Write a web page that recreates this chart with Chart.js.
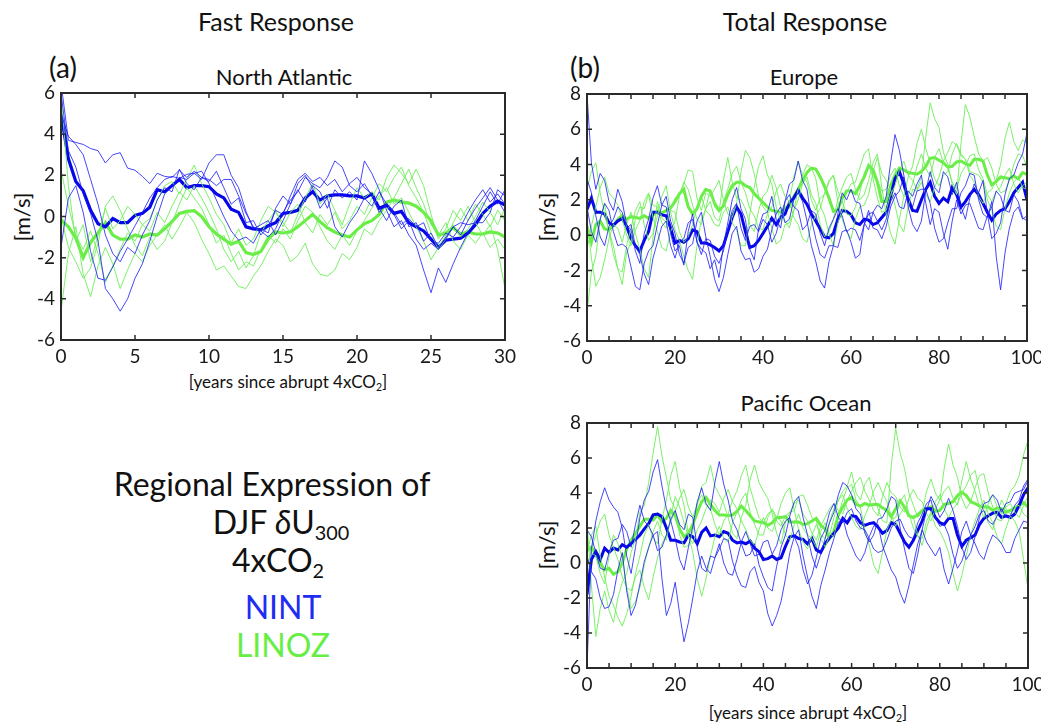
<!DOCTYPE html>
<html>
<head>
<meta charset="utf-8">
<script src="https://cdn.jsdelivr.net/npm/chart.js@4.4.0/dist/chart.umd.min.js"></script>
<style>
body { margin: 0; background: #fff; width: 1041px; height: 724px; position: relative; overflow: hidden; font-family: Lato, "Noto Sans", sans-serif; color: #111; }
.t { position: absolute; transform: translate(-50%, -50%); white-space: nowrap; line-height: 1; }
.rot { transform: translate(-50%, -50%) rotate(-90deg); }
.box { position: absolute; }
sub { font-size: 0.62em; vertical-align: -0.3em; line-height: 0; }
</style>
</head>
<body>

<div class="t" style="left:276px;top:21px;font-size:25px">Fast Response</div>
<div class="t" style="left:805px;top:21px;font-size:25px">Total Response</div>
<div class="t" style="left:63px;top:67px;font-size:28px">(a)</div>
<div class="t" style="left:585px;top:67px;font-size:28px">(b)</div>
<div class="t" style="left:284px;top:77px;font-size:22px">North Atlantic</div>
<div class="t" style="left:804px;top:77px;font-size:22px">Europe</div>
<div class="t" style="left:806px;top:403px;font-size:22px">Pacific Ocean</div>
<div class="t rot" style="left:22px;top:217px;font-size:22px">[m/s]</div>
<div class="t rot" style="left:547px;top:217px;font-size:22px">[m/s]</div>
<div class="t rot" style="left:547px;top:545px;font-size:22px">[m/s]</div>
<div class="t" style="left:288px;top:381px;font-size:17px">[years since abrupt 4xCO<sub>2</sub>]</div>
<div class="t" style="left:808px;top:712px;font-size:17px">[years since abrupt 4xCO<sub>2</sub>]</div>

<div class="t" style="left:272px;top:484px;font-size:32px">Regional Expression of</div>
<div class="t" style="left:281px;top:522px;font-size:32px">DJF <i>δ</i>U<sub>300</sub></div>
<div class="t" style="left:278px;top:560px;font-size:32px">4xCO<sub>2</sub></div>
<div class="t" style="left:283px;top:607px;font-size:32px;color:#1f2cf2">NINT</div>
<div class="t" style="left:283px;top:645px;font-size:32px;color:#66ee44">LINOZ</div>

<div class="box" style="left:0px;top:83px"><canvas id="cA" width="530" height="300"></canvas></div>
<div class="box" style="left:540px;top:84px"><canvas id="cB" width="501" height="300"></canvas></div>
<div class="box" style="left:540px;top:413px"><canvas id="cC" width="501" height="300"></canvas></div>

<script>
// North Atlantic, fast response, sampled every half year (0..30)
var naBlueMean = [5.0,2.8,1.7,1.25,0.3,-0.35,-0.5,-0.1,-0.3,-0.3,0.05,0.15,0.45,1.3,1.2,1.5,1.8,1.4,1.5,1.5,1.45,1.1,0.9,0.35,0.2,-0.5,-0.6,-0.65,-0.45,-0.3,0.15,0.2,0.3,0.9,1.2,0.8,1.0,1.05,1.05,1.0,1.0,0.9,1.1,0.4,0.55,0.15,0.25,-0.3,-0.5,-0.7,-1.1,-1.5,-1.15,-1.1,-1.05,-0.8,-0.4,0.15,0.5,0.75,0.55];
var naGreenMean = [-0.15,-0.5,-1.05,-2.0,-1.25,-0.8,-0.3,-0.9,-1.1,-1.1,-0.9,-1.0,-0.85,-0.9,-0.6,-0.25,0.15,0.25,0.28,0.0,-0.5,-0.85,-1.1,-1.35,-1.2,-1.75,-1.85,-1.7,-1.1,-0.75,-0.8,-0.75,-0.5,-0.2,0.1,-0.25,-0.55,-0.75,-0.9,-1.0,-0.65,-0.35,-0.2,0.1,0.7,0.8,0.7,0.65,0.5,0.2,-0.2,-0.9,-0.8,-0.55,-0.85,-0.75,-0.85,-0.85,-0.75,-0.8,-1.0];
var naBlue1 = [6.5,3.7,3.6,3.5,3.3,3.2,2.6,3.0,3.1,2.35,2.25,1.95,1.6,2.1,1.95,1.9,2.25,1.9,2.2,1.9,1.8,1.5,1.8,1.8,1.0,0.15,-0.5,-0.7,-1.0,-0.6,0.2,0.8,1.2,1.9,1.6,1.4,1.9,2.7,2.4,1.5,1.2,1.6,1.0,0.2,0.6,0.1,-0.6,-0.2,-1.1,-1.6,-1.3,-1.6,-1.0,-0.5,-0.3,-0.4,-0.3,-0.3,0.2,1.3,1.0];
var naBlue2 = [6.0,3.2,2.4,1.1,0.15,-1.2,-3.5,-4.0,-4.6,-4.0,-3.0,-2.3,-1.2,0.0,1.1,1.45,1.9,1.8,2.1,1.8,2.6,3.0,3.0,2.0,1.4,0.25,-0.6,-0.4,-0.2,-0.9,-0.2,0.6,1.3,0.7,1.5,1.2,0.4,1.3,0.9,1.2,0.8,2.7,2.1,1.3,0.3,-0.5,-0.2,-0.9,-1.4,-2.6,-3.7,-2.5,-3.2,-2.3,-1.5,-0.8,-0.2,0.5,1.2,0.6,1.3];
var naBlue3 = [-1.5,0.9,1.5,0.2,-1.7,-3.0,-3.1,-2.45,-1.7,-1.1,-0.45,0.2,0.9,1.4,1.8,1.95,1.85,2.05,2.1,2.2,1.6,0.8,0.0,-0.7,-1.15,-1.0,-1.3,-0.6,-0.8,0.4,1.0,0.6,1.6,2.0,1.4,0.4,0.9,-0.5,-1.0,-0.3,0.2,0.9,0.5,1.2,0.6,0.2,-0.4,-0.1,-0.5,-0.3,-1.2,-1.3,-0.8,-1.0,-0.5,0.2,0.8,1.3,0.7,1.1,0.6];
var naBlue4 = [5.0,3.9,3.5,3.0,1.8,0.6,-0.9,-1.8,-2.2,-1.5,-1.8,-0.9,-0.2,0.8,1.4,1.2,2.3,1.6,1.3,1.9,1.7,2.2,1.4,0.6,0.9,-0.3,-0.2,-0.9,-0.5,0.3,0.1,1.0,1.8,2.1,1.7,1.9,1.5,1.8,1.2,1.6,1.9,1.4,1.1,0.4,-0.2,0.5,0.8,-0.5,-0.3,-1.2,-0.8,-1.5,-1.1,-0.5,-0.9,-0.2,0.4,0.9,1.4,0.8,0.2];
var naGreen1 = [6.0,1.5,-1.2,-0.4,-2.2,-0.9,0.4,-0.6,-0.2,0.5,0.1,-0.4,-0.1,0.8,1.5,1.7,1.1,1.8,2.5,1.6,0.9,0.1,-0.4,-1.3,-0.6,-1.4,-1.1,-0.2,0.5,0.2,-0.3,-0.8,0.1,0.9,1.6,0.6,1.1,0.3,-0.4,0.6,1.4,0.9,1.2,0.8,1.9,2.5,2.1,1.6,2.3,1.5,0.1,-1.1,-0.6,0.3,-0.2,0.5,-0.3,-0.9,-0.4,-1.6,-3.5];
var naGreen2 = [-4.6,-1.8,-0.5,-2.8,-3.9,-2.4,-1.5,-2.3,-3.5,-2.6,-1.8,-2.2,-1.4,-0.9,-0.4,-1.1,-0.5,0.2,-0.3,-1.1,-1.8,-2.6,-2.4,-2.9,-3.4,-3.5,-2.9,-2.4,-1.7,-1.1,-1.4,-2.2,-1.9,-1.3,-2.3,-2.8,-2.9,-2.6,-1.8,-2.1,-1.5,-0.6,-0.9,-0.2,0.3,0.9,1.6,2.3,1.4,0.6,-0.4,-0.9,-0.3,-1.2,-1.6,-0.9,-1.3,-0.8,-1.5,-1.1,-1.6];
var naGreen3 = [0.0,-1.5,-2.2,-3.0,-2.5,-1.3,0.5,1.0,0.3,-0.6,-1.4,-1.9,-1.0,-1.6,-1.2,-0.3,0.6,1.4,0.9,0.4,-0.4,-1.3,-0.9,-1.8,-2.6,-2.2,-2.4,-1.6,-0.9,-1.3,-0.6,-1.1,-0.2,0.5,0.2,-0.5,-1.2,-1.6,-0.9,-1.4,-0.7,-0.2,0.4,1.0,1.4,0.6,0.9,0.2,-0.5,-1.2,-2.1,-1.5,-0.9,-0.4,-1.0,-0.6,0.0,0.7,0.2,-0.4,0.4];
var naGreen4 = [2.3,0.5,-0.9,-1.6,-0.7,-1.8,-3.2,-2.4,-1.6,-0.8,-1.2,-0.4,-0.7,0.2,-0.3,0.5,1.2,0.8,1.5,0.9,0.2,-0.6,-1.6,-2.2,-1.7,-2.5,-1.9,-0.8,-0.2,0.3,-0.5,0.2,0.6,-0.3,-0.8,0.1,-0.4,0.2,-0.6,-0.2,0.5,0.1,0.9,1.6,1.2,1.9,2.4,1.5,0.9,0.2,-0.8,-1.6,-1.1,-0.3,0.4,-0.2,0.6,0.1,-0.5,0.3,-0.2];

// Europe, total response, yearly (0..100)
var euBlueMean = [1.45,2.1,1.3,1.3,1.2,0.7,0.55,0.8,0.95,0.5,-0.2,-0.6,-0.9,-0.3,0.2,1.3,1.3,1.15,1.1,0.4,-0.45,-0.3,-0.4,-0.2,0.3,0.2,-0.45,-0.45,-0.55,-0.7,-0.9,-0.6,0.2,1.0,1.6,1.2,0.2,-0.7,-0.6,-0.3,0.1,0.5,0.95,0.6,1.0,1.2,1.85,2.1,2.55,2.1,1.75,1.2,0.8,0.35,-0.1,-0.15,0.1,0.9,1.4,1.35,1.15,0.7,0.6,0.9,0.85,0.6,0.7,1.0,1.3,2.2,3.2,3.6,2.9,2.0,1.4,1.35,2.0,2.6,3.0,2.2,1.8,2.1,1.9,2.7,2.3,1.6,1.9,2.3,2.6,2.3,1.8,1.3,0.85,1.2,1.4,1.5,1.9,2.4,2.7,3.0,2.0];
var euGreenMean = [0.5,-0.4,0.6,0.8,0.35,0.3,0.55,0.9,1.1,0.9,1.05,1.0,0.95,1.1,0.95,1.15,1.35,1.25,1.4,1.55,1.9,2.35,2.6,1.6,1.2,1.5,2.2,2.6,2.5,1.8,1.4,1.65,2.3,2.8,3.0,3.0,2.8,2.7,2.35,2.1,1.85,1.6,1.4,1.35,1.3,1.5,1.6,2.2,2.6,3.1,3.55,3.8,3.75,3.3,2.75,2.1,1.35,1.45,2.1,2.5,2.5,2.35,2.8,3.3,3.95,3.7,3.0,1.9,1.9,2.8,3.4,3.8,3.7,3.55,3.5,3.45,3.6,3.9,4.35,4.4,4.25,4.1,3.85,3.9,4.15,4.2,4.05,3.95,4.3,4.3,4.2,3.4,2.85,3.05,3.3,3.25,3.2,3.35,3.2,3.55,3.45];
var euBlue1 = [8.0,4.1,2.6,3.5,3.1,1.9,1.4,2.6,1.9,0.6,0.3,-0.9,-1.6,0.1,0.9,2.1,2.8,1.7,1.6,0.1,-0.9,-0.6,-1.7,0.2,1.2,-0.4,-0.8,-1.0,-1.9,-1.4,-2.4,-0.6,0.7,2.0,2.7,1.5,0.9,-0.8,-1.4,0.4,1.2,1.3,2.2,0.9,0.4,1.9,2.9,3.1,4.2,3.1,2.6,0.9,-0.2,-1.1,-1.3,-0.6,-0.6,1.2,2.4,2.0,2.6,1.9,1.8,0.7,0.3,1.3,1.7,1.5,2.2,4.1,5.7,4.8,3.4,1.6,0.6,0.2,0.8,2.5,3.6,2.7,2.4,3.6,3.3,2.3,3.0,1.6,0.9,2.1,2.9,2.4,3.1,1.2,-0.2,0.1,0.7,2.3,3.2,3.4,4.1,4.6,5.8];
var euBlue2 = [1.6,0.2,-0.4,0.9,1.8,1.4,0.2,-0.6,-0.5,-0.7,-1.8,-2.9,-3.1,-1.6,-0.9,-0.6,0.6,1.7,2.2,0.8,0.1,-1.1,-1.6,-0.7,-0.5,0.8,1.3,-0.1,-1.2,-2.5,-3.2,-2.4,-1.1,0.1,0.5,-0.9,-1.4,-1.3,-2.1,-1.9,-1.2,-0.8,0.3,1.2,1.6,0.7,0.9,2.0,2.4,1.9,0.8,-0.6,-1.5,-2.6,-3.0,-1.5,-0.6,-0.7,0.2,0.3,-0.4,-1.3,-1.1,0.6,1.4,0.4,0.3,-0.2,0.5,1.6,2.2,2.5,3.3,2.2,1.6,2.5,2.6,2.6,1.8,0.4,-0.4,-0.2,0.7,1.5,1.5,2.4,2.8,3.5,3.4,2.0,1.2,1.0,1.9,-1.2,-3.1,-1.0,0.4,1.3,1.6,0.9,1.1];
var euBlue3 = [3.2,2.4,1.1,-0.1,-0.6,0.5,0.9,1.6,1.3,0.4,0.6,-0.6,-1.1,-2.2,-2.8,-1.3,-0.4,0.5,0.8,-0.6,-1.3,-0.4,-0.2,0.7,0.9,-0.4,-1.1,-0.2,-0.3,-1.2,-1.6,-0.9,0.3,1.4,1.8,0.4,-0.3,0.5,0.6,0.2,0.9,0.6,-0.4,0.1,1.1,1.9,2.3,1.6,1.4,0.3,0.6,1.4,1.2,0.1,-0.6,0.4,0.9,1.5,1.1,0.2,0.4,0.3,-0.3,0.6,1.2,1.3,0.8,0.3,0.9,1.9,2.4,1.6,1.5,2.5,2.2,2.9,3.4,1.8,0.6,1.5,1.3,0.1,-0.8,0.8,2.0,1.2,1.7,1.8,1.1,0.4,0.3,1.1,1.6,2.5,2.2,1.4,1.3,2.3,1.9,1.0,0.8];
var euGreen1 = [-4.4,-2.1,-1.2,0.9,1.8,0.2,-0.6,-1.9,-2.8,-1.0,-0.4,0.9,1.6,1.5,2.3,1.0,0.2,-0.7,-0.9,0.2,0.8,2.2,2.9,3.7,3.6,2.1,1.4,2.4,2.2,2.6,3.1,2.0,1.2,1.0,1.8,3.6,4.8,4.4,3.5,2.2,1.6,1.3,0.4,-0.5,-0.3,0.6,0.7,1.4,2.6,3.4,4.0,3.8,3.2,1.7,1.1,0.1,-0.6,0.7,1.4,2.4,2.9,3.0,3.8,4.6,4.9,3.2,2.1,1.3,1.4,2.3,2.8,3.7,4.2,3.4,3.1,2.6,3.3,5.6,7.5,6.6,6.1,4.7,4.0,2.9,2.3,5.2,7.4,6.7,5.6,4.6,4.2,4.4,3.8,2.9,2.4,2.5,3.1,4.0,4.6,4.5,3.9];
var euGreen2 = [2.6,3.6,4.1,2.4,1.2,0.2,-1.1,-1.9,-2.1,-0.6,0.4,1.4,1.9,0.6,-0.3,0.1,1.1,2.2,2.8,1.3,0.3,-0.3,-1.2,-2.0,-2.5,-0.6,0.9,1.5,2.6,1.6,1.3,3.1,4.4,3.0,2.1,2.0,1.5,0.6,0.2,1.4,2.2,2.5,3.4,2.7,1.6,0.8,0.4,1.4,2.0,2.9,3.3,2.3,1.8,0.6,-0.1,0.2,0.9,2.0,2.7,3.3,3.5,2.6,2.0,2.3,3.1,4.1,4.6,2.7,1.2,0.1,-0.5,0.9,2.2,3.3,3.9,5.2,6.0,4.9,4.1,3.2,2.8,3.4,3.6,4.6,5.2,4.6,4.3,3.4,3.0,2.2,1.8,2.4,2.6,3.1,4.0,5.5,6.4,5.3,4.8,5.4,5.2];
var euGreen3 = [-0.8,0.5,1.6,2.7,3.3,2.4,2.1,1.7,0.9,0.0,-0.6,0.3,0.8,1.9,2.4,1.7,1.6,0.7,0.4,1.5,2.1,2.3,3.0,2.6,1.7,0.9,0.6,1.5,1.9,1.0,0.8,1.9,2.6,3.5,3.9,3.0,2.4,1.5,1.1,0.4,0.3,1.2,1.6,2.5,2.9,2.2,1.9,3.3,4.2,3.4,3.0,2.0,1.4,2.1,2.3,3.0,3.4,2.5,1.9,1.2,1.1,1.6,2.4,3.5,4.0,3.3,3.1,2.5,2.6,3.4,3.8,2.8,2.2,2.3,2.9,3.9,4.6,3.8,3.3,4.4,4.9,4.1,3.8,3.0,2.6,3.5,3.9,4.5,4.6,3.7,3.2,2.3,1.9,2.5,2.7,3.4,3.8,2.9,2.4,2.8,3.0];
var euGreen4 = [0.9,-1.3,-2.9,-2.4,-1.4,-0.2,0.6,0.4,-0.4,0.6,1.3,0.1,-0.8,-1.9,-2.4,-0.1,1.9,1.0,0.7,1.4,1.3,0.2,-0.4,-0.1,0.6,1.6,2.2,1.4,1.1,0.6,0.5,1.3,1.6,0.7,0.3,-0.6,-0.6,1.2,2.7,3.9,4.5,3.4,2.9,1.6,0.8,1.6,1.9,1.0,0.6,-0.2,-0.4,0.6,1.1,1.5,2.4,3.1,3.4,1.9,0.9,0.2,-0.2,0.9,1.6,1.7,2.3,3.6,4.4,3.5,3.1,2.6,1.7,0.6,0.2,1.6,2.6,2.5,3.0,2.3,1.9,2.7,3.3,4.2,4.7,5.3,5.1,4.5,4.3,3.6,3.5,3.4,3.0,2.0,1.4,0.5,0.3,1.5,2.4,3.0,3.3,2.7,2.6];

// Pacific Ocean, total response, yearly (0..100)
var paBlueMean = [-1.8,0.2,0.65,0.2,0.85,0.6,0.85,0.75,1.05,0.9,1.1,1.35,1.6,1.95,2.25,2.75,2.8,2.65,2.0,1.3,1.3,1.2,1.15,1.6,1.5,1.1,1.75,2.0,1.55,1.6,1.5,1.8,1.7,1.3,1.15,1.2,1.1,1.25,0.85,0.65,0.2,0.25,0.4,0.2,0.3,0.95,1.5,1.55,1.4,1.35,1.1,1.4,0.75,0.6,1.1,1.45,1.7,2.0,2.55,2.3,2.7,2.65,2.3,2.15,2.25,2.3,2.05,1.7,1.85,2.3,2.2,1.7,1.2,0.9,1.3,1.85,2.4,3.1,3.1,2.6,2.3,2.2,2.55,2.55,1.6,0.95,1.3,1.45,1.6,2.2,2.55,2.7,2.85,2.9,2.6,2.7,2.6,2.8,3.3,3.9,4.3];
var paGreenMean = [0.7,0.9,0.5,0.0,-0.4,-0.3,-0.65,-0.5,0.0,0.8,1.3,1.7,2.1,2.5,2.5,2.45,2.75,2.35,2.55,3.0,2.7,1.95,1.5,1.7,2.2,2.9,3.5,3.75,3.35,3.0,2.75,2.75,2.7,2.75,2.95,3.25,3.0,2.7,2.4,2.35,2.3,2.15,2.3,2.6,2.6,2.65,2.35,2.35,2.35,2.2,2.25,2.4,2.55,2.15,1.95,1.4,1.8,2.75,3.2,3.6,3.75,3.35,3.25,3.4,3.3,3.35,3.35,3.15,3.0,2.65,3.1,3.55,3.2,2.7,2.6,2.75,3.0,3.1,3.2,2.95,3.0,3.35,3.4,3.5,3.85,4.05,3.85,3.5,3.4,3.25,3.2,3.2,3.0,3.15,3.1,2.9,3.0,3.15,3.3,3.45,3.2];
var paBlue1 = [-6.0,0.8,2.4,3.5,4.3,3.6,3.2,2.9,2.0,0.4,-0.6,0.9,2.6,3.6,4.1,5.2,5.9,4.4,3.1,2.4,1.4,0.2,-0.4,0.9,2.1,3.5,4.3,3.4,3.0,4.6,5.8,4.5,3.6,2.4,1.9,1.1,0.4,0.5,1.1,-0.1,-0.8,-1.4,-1.6,-0.2,0.9,1.6,2.7,3.5,3.8,2.6,1.6,0.4,-0.3,0.5,1.4,2.3,2.9,3.9,4.6,4.4,3.9,3.1,2.8,1.7,1.2,1.6,2.5,2.6,3.1,3.8,3.6,2.0,0.8,-0.3,-0.6,0.5,1.9,3.0,3.8,3.3,2.6,3.0,3.7,3.0,2.1,0.9,0.2,0.6,1.5,2.6,3.4,3.5,3.9,3.6,2.9,3.4,3.5,4.0,4.1,4.2,4.7];
var paBlue2 = [0.4,-0.5,-0.9,-2.0,-2.6,-2.5,-1.8,-0.4,0.6,-1.6,-3.0,-2.4,-1.2,0.1,0.9,1.6,1.8,-0.9,-3.0,-2.3,-1.1,-2.9,-4.5,-3.4,-2.0,-0.5,0.4,-0.3,-0.6,0.3,0.8,1.4,1.3,0.1,-0.7,-1.3,-1.4,-0.5,-0.2,-1.1,-1.6,-2.9,-3.6,-3.0,-2.2,-0.9,0.6,1.5,1.9,0.4,-0.8,-1.9,-2.6,-1.3,-0.4,0.6,1.4,2.3,2.6,1.6,1.0,0.4,0.1,0.6,1.5,2.1,2.2,1.0,0.3,-0.4,-0.8,-1.7,-2.3,-1.3,-0.1,1.1,1.9,1.2,0.8,0.4,0.9,-0.4,-1.2,-0.3,0.7,1.8,2.4,1.6,1.1,0.5,0.2,1.0,1.6,1.4,1.1,0.6,0.6,1.4,1.9,2.4,2.3];
var paBlue3 = [1.9,1.5,0.6,-0.3,-0.4,0.6,1.3,1.4,2.2,1.8,0.9,2.2,3.3,2.4,2.1,1.6,0.7,0.9,1.6,2.5,3.0,2.2,1.9,2.8,2.6,0.9,-0.3,-0.5,0.4,0.3,1.1,0.0,-0.6,-0.7,0.2,1.2,1.8,1.1,0.4,0.5,1.2,1.3,0.5,1.0,1.9,2.4,2.6,1.5,0.9,-0.4,-1.2,-0.7,0.3,1.4,1.9,2.9,3.4,2.6,2.3,2.9,3.1,2.4,2.0,1.9,1.4,0.8,0.6,0.7,1.3,2.0,2.4,2.5,1.9,1.5,1.4,2.3,2.8,3.4,3.6,2.6,2.1,2.2,1.6,0.5,-0.3,0.1,0.9,1.6,2.1,2.8,3.0,2.4,2.2,2.7,3.1,2.6,2.7,3.3,3.6,4.4,4.8];
var paGreen1 = [2.4,-1.3,-4.2,-2.6,-1.6,-2.7,-3.4,-2.0,-1.1,-0.6,0.6,1.4,2.9,3.3,4.6,6.3,7.8,6.1,4.9,3.6,3.1,1.6,0.9,1.0,1.8,3.3,4.4,4.6,5.6,4.4,3.9,3.4,2.6,1.7,1.4,2.6,3.3,4.8,5.6,4.6,4.1,3.7,2.8,1.7,1.1,2.3,2.9,3.0,3.8,3.9,3.3,2.6,2.4,1.4,0.9,1.6,2.6,3.6,4.1,4.4,5.2,4.0,3.6,4.5,4.9,3.8,3.1,2.4,2.3,5.6,7.7,6.3,5.4,4.0,3.3,2.6,2.9,4.1,4.8,4.0,3.6,5.4,6.8,5.6,4.9,3.7,3.1,3.5,4.3,5.0,5.1,4.0,3.2,2.5,2.4,3.4,4.1,4.4,5.0,6.2,7.0];
var paGreen2 = [0.6,1.6,2.1,0.4,-0.8,-1.9,-2.4,-3.1,-3.6,-2.9,-1.9,-0.6,0.4,1.6,2.2,1.4,1.1,2.5,3.6,5.0,5.8,4.3,3.3,1.6,0.6,-0.9,-1.9,-0.9,0.4,1.5,2.1,1.4,1.2,2.3,2.9,3.6,4.0,2.9,2.2,1.6,1.6,2.6,3.1,2.6,2.4,1.6,1.3,2.2,2.8,2.0,1.6,1.4,0.9,1.8,2.3,1.7,1.5,2.7,3.6,4.3,4.5,3.6,3.2,1.9,1.0,-0.1,-0.6,0.6,1.9,2.5,2.6,3.5,3.9,2.8,2.0,1.5,1.4,2.4,2.9,2.1,1.8,1.3,0.6,-0.6,-1.6,-0.7,0.4,1.6,2.4,3.1,3.6,2.8,2.3,1.5,1.1,2.0,2.7,2.4,1.8,0.2,-1.5];
var paGreen3 = [-0.4,0.8,1.6,2.4,2.8,1.6,0.9,0.2,-0.8,-1.4,-1.6,-0.8,-0.4,-1.4,-2.1,-0.8,0.3,1.1,1.6,2.4,2.9,3.7,4.2,3.2,2.6,3.4,3.9,3.3,3.1,2.2,1.6,2.4,2.8,3.6,4.1,5.0,5.6,4.3,3.4,2.6,2.3,2.8,3.0,2.4,2.1,2.7,2.9,3.4,3.6,2.8,2.4,1.7,1.3,2.1,2.6,3.1,3.4,3.0,2.8,3.6,4.1,4.6,4.9,4.1,3.6,3.0,2.7,3.8,4.6,4.0,3.8,3.2,2.9,3.7,4.2,3.7,3.5,2.8,2.4,3.1,3.6,4.1,4.4,3.7,3.3,4.7,5.8,4.8,4.1,3.2,2.6,3.4,3.9,3.2,2.8,3.2,3.4,2.9,2.6,3.3,3.8];
var paGreen4 = [1.3,0.6,0.4,-0.6,-1.2,0.4,1.6,1.1,0.3,-1.4,-2.6,-2.2,-1.4,-0.1,0.9,1.8,2.4,1.6,1.3,2.7,3.8,3.2,2.3,1.5,1.1,1.9,2.4,3.1,3.6,3.4,2.9,3.7,4.2,3.5,3.1,2.4,1.9,1.3,1.0,1.9,2.6,2.0,1.8,2.5,3.4,4.0,4.3,3.0,1.9,1.2,0.8,1.6,2.2,1.6,1.4,2.4,3.1,3.6,3.9,3.1,2.6,2.1,1.9,2.7,3.3,4.1,4.6,4.0,3.5,2.7,2.1,2.8,3.2,2.8,2.6,1.6,1.0,2.0,2.8,3.5,3.9,3.1,2.6,3.1,3.4,4.0,4.4,5.0,5.3,4.1,3.0,2.3,1.9,2.8,3.6,3.1,2.8,3.2,3.3,2.8,2.6];

var BLUE_THIN = 'rgba(25,25,250,0.8)', BLUE_THICK = '#0606e8';
var GREEN_THIN = 'rgba(110,238,90,0.9)', GREEN_THICK = '#6aee46';

Chart.defaults.font.family = 'Lato, "Noto Sans", sans-serif';
Chart.defaults.font.size = 19;
Chart.defaults.color = '#1a1a1a';

function toXY(vals, step) {
    return vals.map(function(v, i) { return { x: i * step, y: v }; });
}

function line(vals, step, color, width) {
    return { data: toXY(vals, step), borderColor: color, borderWidth: width, pointRadius: 0, tension: 0, fill: false };
}

// box-style frame with inward ticks on all four sides
var frameTicks = {
    id: 'frameTicks',
    afterDatasetsDraw: function(chart) {
        var a = chart.chartArea, c = chart.ctx, xs = chart.scales.x, ys = chart.scales.y, len = 5;
        c.save();
        c.strokeStyle = '#2a2a2a';
        c.lineWidth = 1.5;
        c.beginPath();
        xs.ticks.forEach(function(t) {
            var p = xs.getPixelForValue(t.value);
            c.moveTo(p, a.bottom); c.lineTo(p, a.bottom - len);
            c.moveTo(p, a.top); c.lineTo(p, a.top + len);
        });
        ys.ticks.forEach(function(t) {
            var p = ys.getPixelForValue(t.value);
            c.moveTo(a.left, p); c.lineTo(a.left + len, p);
            c.moveTo(a.right, p); c.lineTo(a.right - len, p);
        });
        c.stroke();
        c.lineWidth = 2;
        c.strokeRect(a.left, a.top, a.right - a.left, a.bottom - a.top);
        c.restore();
    }
};

function makePanel(id, box, plot, xMax, xStep, xLabelEvery, yMin, yMax, datasets) {
    var yW = 45, xH = 30;
    var pad = {
        left: plot.l - box.l - yW,
        top: plot.t - box.t,
        right: box.l + box.w - plot.r,
        bottom: box.t + box.h - plot.b - xH
    };
    return new Chart(document.getElementById(id).getContext('2d'), {
        type: 'line',
        data: { datasets: datasets },
        plugins: [frameTicks],
        options: {
            responsive: false,
            animation: false,
            devicePixelRatio: 1,
            layout: { padding: pad },
            plugins: { legend: { display: false }, tooltip: { enabled: false } },
            scales: {
                x: {
                    type: 'linear', min: 0, max: xMax,
                    grid: { display: false, drawTicks: false }, border: { display: false },
                    ticks: {
                        stepSize: xStep, autoSkip: false, maxRotation: 0, padding: 5, maxTicksLimit: 40,
                        callback: function(v) { return v % xLabelEvery === 0 ? String(v) : ''; }
                    },
                    afterFit: function(s) { s.height = xH; s.paddingLeft = 0; s.paddingRight = 0; }
                },
                y: {
                    min: yMin, max: yMax,
                    grid: { display: false, drawTicks: false }, border: { display: false },
                    ticks: { stepSize: 2, padding: 6 },
                    afterFit: function(s) { s.width = yW; s.paddingTop = 0; s.paddingBottom = 0; }
                }
            }
        }
    });
}

makePanel('cA', { l: 0, t: 83, w: 530, h: 300 }, { l: 61, t: 93, r: 505, b: 340 }, 30, 5, 5, -6, 6, [
    line(naBlue1, 0.5, BLUE_THIN, 1),
    line(naBlue2, 0.5, BLUE_THIN, 1),
    line(naBlue3, 0.5, BLUE_THIN, 1),
    line(naBlue4, 0.5, BLUE_THIN, 1),
    line(naGreen1, 0.5, GREEN_THIN, 1),
    line(naGreen2, 0.5, GREEN_THIN, 1),
    line(naGreen3, 0.5, GREEN_THIN, 1),
    line(naGreen4, 0.5, GREEN_THIN, 1),
    line(naBlueMean, 0.5, BLUE_THICK, 3.2),
    line(naGreenMean, 0.5, GREEN_THICK, 3.2)
]);

makePanel('cB', { l: 540, t: 84, w: 501, h: 300 }, { l: 587, t: 94, r: 1027, b: 341 }, 100, 5, 20, -6, 8, [
    line(euBlue1, 1, BLUE_THIN, 1),
    line(euBlue2, 1, BLUE_THIN, 1),
    line(euBlue3, 1, BLUE_THIN, 1),
    line(euGreen1, 1, GREEN_THIN, 1),
    line(euGreen2, 1, GREEN_THIN, 1),
    line(euGreen3, 1, GREEN_THIN, 1),
    line(euGreen4, 1, GREEN_THIN, 1),
    line(euBlueMean, 1, BLUE_THICK, 3),
    line(euGreenMean, 1, GREEN_THICK, 3)
]);

makePanel('cC', { l: 540, t: 413, w: 501, h: 300 }, { l: 587, t: 423, r: 1028, b: 668 }, 100, 5, 20, -6, 8, [
    line(paBlue1, 1, BLUE_THIN, 1),
    line(paBlue2, 1, BLUE_THIN, 1),
    line(paBlue3, 1, BLUE_THIN, 1),
    line(paGreen1, 1, GREEN_THIN, 1),
    line(paGreen2, 1, GREEN_THIN, 1),
    line(paGreen3, 1, GREEN_THIN, 1),
    line(paGreen4, 1, GREEN_THIN, 1),
    line(paBlueMean, 1, BLUE_THICK, 3),
    line(paGreenMean, 1, GREEN_THICK, 3)
]);
</script>
</body>
</html>
